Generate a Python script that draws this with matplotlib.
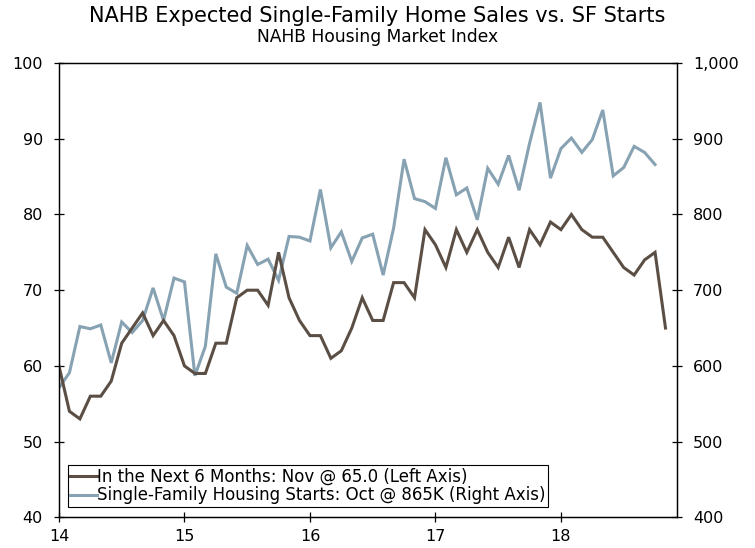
import matplotlib
matplotlib.use("Agg")
import matplotlib.pyplot as plt
from matplotlib.ticker import FuncFormatter

# Monthly data starting Jan 2014
expected_sales = [
    60, 54, 53, 56, 56, 58, 63, 65, 67, 64, 66, 64,   # 2014
    60, 59, 59, 63, 63, 69, 70, 70, 68, 75, 69, 66,   # 2015
    64, 64, 61, 62, 65, 69, 66, 66, 71, 71, 69, 78,   # 2016
    76, 73, 78, 75, 78, 75, 73, 77, 73, 78, 76, 79,   # 2017
    78, 80, 78, 77, 77, 75, 73, 72, 74, 75, 65,       # 2018 (to Nov)
]
sf_starts = [
    571, 591, 652, 649, 654, 604, 658, 644, 660, 703, 660, 716,   # 2014
    711, 587, 626, 748, 704, 696, 759, 734, 741, 713, 771, 770,   # 2015
    765, 833, 756, 777, 738, 769, 774, 720, 782, 873, 821, 817,   # 2016
    808, 875, 826, 835, 793, 861, 840, 878, 832, 894, 948, 848,   # 2017
    887, 901, 882, 899, 938, 851, 862, 890, 882, 866,             # 2018 (to Oct)
]
year_ticks = [0, 12, 24, 36, 48]
year_labels = ["14", "15", "16", "17", "18"]
left_ticks = [40, 50, 60, 70, 80, 90, 100]
right_ticks = [400, 500, 600, 700, 800, 900, 1000]

label_sales = "In the Next 6 Months: Nov @ 65.0 (Left Axis)"
label_starts = "Single-Family Housing Starts: Oct @ 865K (Right Axis)"

brown = "#5b4f45"
blue = "#87a2b2"

plt.rcParams["font.family"] = ["DejaVu Sans"]

fig = plt.figure(figsize=(7.55, 5.48), dpi=100)
ax = fig.add_axes([0.0781, 0.056, 0.8186, 0.8289])
ax2 = ax.twinx()

x1 = list(range(len(expected_sales)))
x2 = list(range(len(sf_starts)))

l2, = ax2.plot(x2, sf_starts, color=blue, lw=2.2, solid_joinstyle="miter", label=label_starts)
l1, = ax.plot(x1, expected_sales, color=brown, lw=2.2, solid_joinstyle="miter", label=label_sales)
ax.set_zorder(ax2.get_zorder() + 1)
ax.patch.set_visible(False)

ax.set_xlim(0, 59.1)
ax.set_ylim(40, 100)
ax2.set_ylim(400, 1000)
ax.set_xticks(year_ticks)
ax.set_xticklabels(year_labels)
ax.set_yticks(left_ticks)
ax2.set_yticks(right_ticks)
ax2.yaxis.set_major_formatter(FuncFormatter(lambda v, p: f"{int(v):,}"))

for a in (ax, ax2):
    a.tick_params(direction="inout", length=7, width=0.9, labelsize=11.5, colors="black")
    for s in a.spines.values():
        s.set_linewidth(0.9)
ax.tick_params(axis="x", pad=5)
ax.tick_params(axis="y", pad=8)
ax2.tick_params(axis="y", pad=8)

leg = ax.legend([l1, l2], [label_sales, label_starts], loc="lower left",
                bbox_to_anchor=(0.014, 0.023), fontsize=12, frameon=True,
                fancybox=False, edgecolor="black", framealpha=1,
                handlelength=1.6, handletextpad=0.0, borderpad=0.15,
                labelspacing=0.05, borderaxespad=0)
leg.get_frame().set_linewidth(0.8)

fig.text(0.5, 0.971, "NAHB Expected Single-Family Home Sales vs. SF Starts",
         ha="center", va="center", fontsize=15)
fig.text(0.5, 0.932, "NAHB Housing Market Index", ha="center", va="center", fontsize=12.3)

fig.savefig("out.png", dpi=100)
